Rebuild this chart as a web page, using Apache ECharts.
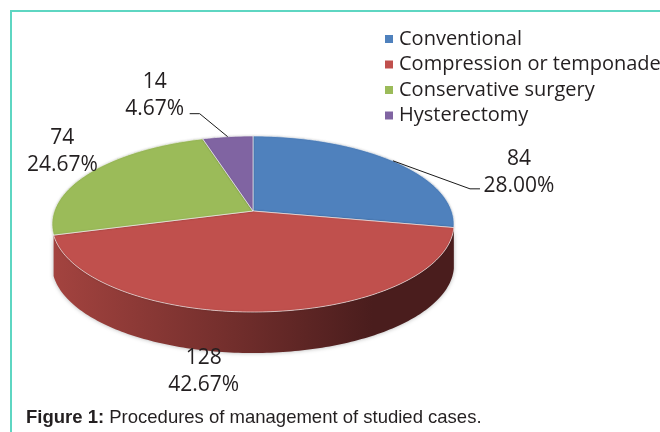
<!DOCTYPE html>
<html>
<head>
<meta charset="utf-8">
<script src="https://cdn.jsdelivr.net/npm/echarts@6/dist/echarts.min.js"></script>
<style>
html,body{margin:0;padding:0;background:#fff;}
#chart{width:660px;height:432px;}
</style>
</head>
<body>
<div id="chart"></div>
<script>
// ---- data ----
const categories = ['Conventional', 'Compression or temponade', 'Conservative surgery', 'Hysterectomy'];
const values = [84, 128, 74, 14];
const caption = 'Procedures of management of studied cases.';
const captionLead = 'Figure 1:';

// ---- styles / layout ----
const topColors = ['#4f81bd', '#c0504d', '#9bbb59', '#8064a2'];
const sideColors = [
  ['#3a5f8c', '#233a57'],
  ['#a3433f', '#4a1d1d'],
  ['#7d9a44', '#4b5d28'],
  ['#604a7b', '#3b2d4c']
];
// label block centre offsets relative to slice mid-edge point, and leader line bends
const labelLayout = [
  {dx: 126, dy: 12, line: [[77, 28], [87, 28]]},
  {dx: -59, dy: 60, line: null},
  {dx: -28, dy: -21, line: null},
  {dx: -73, dy: -41, line: [[-28, -23], [-38, -23]]}
];
const CX = 253, CY = 211, A = 198.8, B = 86.1, K = 0.1477, H = 41;
const MIN_SIDE = 10 * Math.PI / 180;
const TEXT = '#231f20';

const total = values.reduce((s, v) => s + v, 0);

function proj(theta, r, dy) {
  const X = Math.sin(theta) * r, Z = Math.cos(theta) * r;
  const w = 1 + K * Z;
  return [CX + A * X / w, CY - B * Z / w + (dy || 0)];
}
function arc(a, b, dy) {
  const pts = [];
  const n = Math.max(2, Math.ceil((b - a) / (Math.PI / 180)));
  for (let i = 0; i <= n; i++) pts.push(proj(a + (b - a) * i / n, 1, dy));
  return pts;
}
const S0 = Math.acos(-K), S1 = 2 * Math.PI - S0;

function makeRender(idx) {
  return function (params, api) {
    const v = api.value(0);
    let before = 0;
    for (let i = 0; i < idx; i++) before += values[i];
    const a = before / total * 2 * Math.PI;
    const b = (before + v) / total * 2 * Math.PI;
    const children = [];
    // side (only the front, visible part)
    const sa = Math.max(a, S0), sb = Math.min(b, S1);
    if (sb - sa > MIN_SIDE) {
      const top = arc(sa, sb, 0);
      const bot = arc(sa, sb, H).reverse();
      children.push({
        type: 'polygon', z2: 1,
        shape: {points: top.concat(bot)},
        style: {
          fill: new echarts.graphic.LinearGradient(CX - A, 0, CX + A, 0, [
            {offset: 0, color: sideColors[idx][0]},
            {offset: 0.45, color: echarts.color.lerp(0.55, [sideColors[idx][0], sideColors[idx][1]])},
            {offset: 0.8, color: sideColors[idx][1]},
            {offset: 1, color: sideColors[idx][1]}
          ], true),
          shadowBlur: 4, shadowColor: 'rgba(0,0,0,0.3)'
        }
      });
    }
    // top
    const pts = [[CX, CY]].concat(arc(a, b, 0));
    children.push({
      type: 'polygon', z2: 2,
      shape: {points: pts},
      style: {fill: topColors[idx], stroke: 'rgba(255,255,255,0.75)', lineWidth: 0.8,
        shadowBlur: 2, shadowColor: 'rgba(0,0,0,0.2)'}
    });
    // label
    const mid = (a + b) / 2;
    const e = proj(mid, 1, 0);
    const L = labelLayout[idx];
    if (L.line) {
      const lp = [e].concat(L.line.map(p => [e[0] + p[0], e[1] + p[1]]));
      children.push({type: 'polyline', z2: 5, shape: {points: lp},
        style: {stroke: '#1a1a1a', lineWidth: 1, fill: null}});
    }
    children.push({
      type: 'text', z2: 6,
      x: e[0] + L.dx, y: e[1] + L.dy,
      style: {
        text: v + '\n' + (v / total * 100).toFixed(2) + '%',
        fill: TEXT, fontSize: 21, fontFamily: 'Open Sans', lineHeight: 27,
        align: 'center', verticalAlign: 'middle'
      }
    });
    return {type: 'group', children: children};
  };
}

const chart = echarts.init(document.getElementById('chart'), null, {renderer: 'canvas'});
chart.setOption({
  animation: false,
  backgroundColor: '#fff',
  legend: {
    orient: 'vertical', left: 385, top: 29, padding: 0,
    itemWidth: 8, itemHeight: 8, itemGap: 5.5, icon: 'rect',
    textStyle: {fontSize: 20, fontFamily: 'Open Sans', color: TEXT, lineHeight: 20, padding: [0, 0, 0, 1]},
    data: categories
  },
  graphic: [
    {type: 'rect', shape: {x: 11, y: 11, width: 720, height: 500},
      style: {fill: null, stroke: '#5ed6c2', lineWidth: 2}, silent: true},
    {type: 'text', left: 26, top: 408,
      style: {
        rich: {b: {fontWeight: 'bold', fontSize: 18.5, fontFamily: 'Liberation Sans', fill: TEXT}},
        text: '{b|' + captionLead + '} ' + caption,
        fontSize: 18.5, fontFamily: 'Liberation Sans', fill: TEXT
      }}
  ],
  series: categories.map((name, i) => ({
    type: 'custom', name: name, coordinateSystem: 'none',
    itemStyle: {color: topColors[i]},
    renderItem: makeRender(i),
    data: [[values[i]]]
  }))
});
</script>
</body>
</html>
